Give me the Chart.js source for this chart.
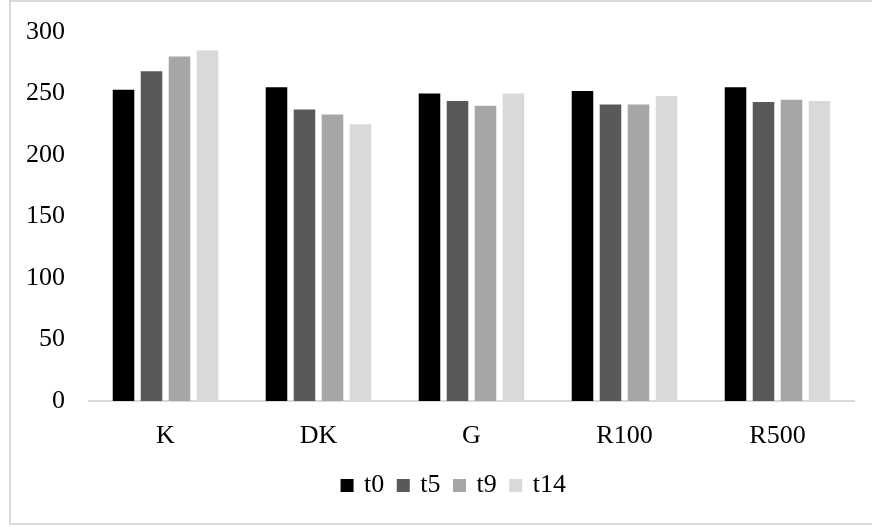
<!DOCTYPE html>
<html>
<head>
<meta charset="utf-8">
<script src="https://cdn.jsdelivr.net/npm/chart.js@4/dist/chart.umd.min.js"></script>
<style>
  html, body { margin: 0; padding: 0; background: #fff; }
  #wrap { width: 872px; height: 527px; position: relative; }
</style>
</head>
<body>
<div id="wrap"><canvas id="c" width="872" height="527"></canvas></div>
<script>
const categories = ['K', 'DK', 'G', 'R100', 'R500'];
const seriesNames = ['t0', 't5', 't9', 't14'];
const t0  = [253, 255, 250, 252, 255];
const t5  = [268, 237, 244, 241, 243];
const t9  = [280, 233, 240, 241, 245];
const t14 = [285, 225, 250, 248, 244];
const seriesColors = ['#000000', '#595959', '#a6a6a6', '#d9d9d9'];
const yTicks = { min: 0, max: 300, step: 50 };

const FONT = 'Liberation Serif';
const FONT_SIZE = 26;
const LEGEND_SHIFT = 27.5;

// white background, light grey frame, and a small horizontal offset for the legend row
const framePlugin = {
  id: 'frame',
  beforeDraw(chart) {
    const ctx = chart.ctx;
    ctx.save();
    ctx.fillStyle = '#ffffff';
    ctx.fillRect(0, 0, chart.width, chart.height);
    ctx.strokeStyle = '#d9d9d9';
    ctx.lineWidth = 2;
    ctx.strokeRect(10, 1, 880, 523);
    ctx.restore();
    const lg = chart.legend;
    if (lg && !lg._shifted) {
      lg.left += LEGEND_SHIFT;
      lg.right += LEGEND_SHIFT;
      lg._shifted = true;
    }
  }
};

const values = [t0, t5, t9, t14];
new Chart(document.getElementById('c'), {
  type: 'bar',
  data: {
    labels: categories,
    datasets: seriesNames.map((name, i) => ({
      label: name,
      data: values[i],
      backgroundColor: seriesColors[i],
      borderWidth: 0,
      categoryPercentage: 0.732,
      barPercentage: 0.77
    }))
  },
  options: {
    responsive: false,
    animation: false,
    devicePixelRatio: 1,
    layout: { padding: { left: 0, right: 18, top: 32, bottom: 18.5 } },
    plugins: {
      tooltip: { enabled: false },
      legend: {
        position: 'bottom',
        labels: {
          color: '#000',
          font: { family: FONT, size: FONT_SIZE },
          boxWidth: 8,
          boxHeight: 8,
          padding: 15,
          // small square swatches: 8px fill plus a same-coloured 5px outline
          generateLabels(chart) {
            return Chart.defaults.plugins.legend.labels.generateLabels(chart).map(item => ({
              ...item,
              lineWidth: 5,
              strokeStyle: item.fillStyle
            }));
          }
        }
      }
    },
    scales: {
      x: {
        grid: { display: false, drawTicks: false },
        border: { display: true, color: '#d9d9d9', width: 2 },
        ticks: { color: '#000', font: { family: FONT, size: FONT_SIZE }, padding: 20 },
        afterFit(scale) { scale.height = 56.5; }
      },
      y: {
        min: yTicks.min,
        max: yTicks.max,
        grid: { display: false, drawTicks: false },
        border: { display: false },
        ticks: {
          stepSize: yTicks.step,
          color: '#000',
          font: { family: FONT, size: FONT_SIZE },
          padding: 24
        },
        afterFit(scale) {
          scale.width = 89;
          scale.paddingTop = 0;
          scale.paddingBottom = 0;
        }
      }
    }
  },
  plugins: [framePlugin]
});
</script>
</body>
</html>
